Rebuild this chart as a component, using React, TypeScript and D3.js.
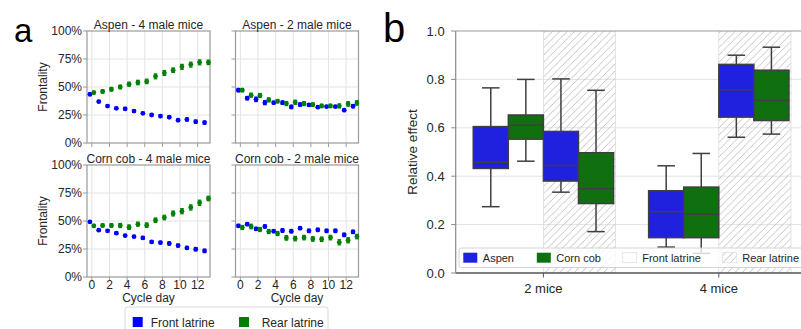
import React from "react";
import * as d3 from "d3";

// ---------- Panel a data ----------
const days = [0, 1, 2, 3, 4, 5, 6, 7, 8, 9, 10, 11, 12, 13];
const dayTicks = [0, 2, 4, 6, 8, 10, 12];
const pctTicks = [0, 25, 50, 75, 100];

const aspen4Front = [43.5, 37, 33, 31, 30.5, 28.5, 26.5, 25, 24, 23, 20.3, 21, 19, 18.2];
const aspen4Rear = [45, 46, 48, 50, 52.5, 54, 55, 59.5, 62.5, 65, 68, 70, 72, 72];
const aspen2Front = [47.2, 40, 39, 36, 36, 36, 32.2, 34.3, 34, 32, 32.5, 32.5, 29.3, 32.8];
const aspen2Rear = [47.2, 42.7, 42.4, 38.5, 37.3, 35.2, 36.4, 35.2, 34.3, 33.1, 33.1, 33.1, 34.9, 35.8];
const corn4Front = [49.3, 41.8, 41.2, 39.1, 37, 36.1, 34.9, 31.3, 30.7, 29.9, 28.1, 26, 24.8, 23.3];
const corn4Rear = [45.7, 46, 46, 46, 44.5, 47.2, 46.3, 50.7, 53.1, 56.7, 58.8, 62.1, 66.3, 70.1];
const corn2Front = [45.7, 47.2, 43, 45.1, 40.9, 41.5, 40.9, 43.6, 41.2, 42.1, 41.2, 41.2, 37.6, 40.3];
const corn2Rear = [44.2, 45.1, 42.4, 40.6, 38.8, 34.9, 34.3, 35.2, 34, 33.7, 35.2, 31, 32.8, 36.1];

const aspen4FrontErr = [1.2, 1, 1, 1, 1.3, 1, 1, 1, 1.3, 1, 1, 1.2, 1.4, 1.4];
const aspen4RearErr = [1.3, 1.5, 1.6, 1.6, 1.8, 2, 2, 2.2, 2.2, 2, 2.2, 2.2, 2.2, 2];
const aspen2FrontErr = [1.5, 1.5, 2, 1.8, 1.2, 1.5, 1.5, 1.5, 1.2, 1, 1, 1, 1.2, 1.3];
const aspen2RearErr = [1.5, 1.8, 1.8, 1.8, 1.5, 1.8, 1.8, 1.8, 1.5, 1.5, 1.5, 1.8, 2, 2];
const corn4FrontErr = [1, 1, 1, 1, 1, 1, 1.3, 1.2, 1.2, 1.3, 1.3, 1.3, 1.5, 1.5];
const corn4RearErr = [1.3, 1.3, 1.5, 1.8, 2, 1.8, 2, 2, 2, 2.2, 2.3, 2.3, 2.3, 2];
const corn2FrontErr = [1.3, 1.3, 1.3, 1.3, 1.3, 1.5, 1.5, 1.3, 1.5, 1.5, 1.5, 1.5, 1.5, 1.5];
const corn2RearErr = [1.8, 2, 1.8, 1.8, 1.8, 2, 2, 2, 2, 2, 2, 2.3, 2.3, 2];

const panelTitles = ["Aspen - 4 male mice", "Aspen - 2 male mice", "Corn cob - 4 male mice", "Corn cob - 2 male mice"];
const latrineLabels = ["Front latrine", "Rear latrine"];

// ---------- Panel b data ----------
const groups = ["2 mice", "4 mice"];
const beddings = ["Aspen", "Corn cob"];
const boxLatrine = ["Front", "Front", "Rear", "Rear"];
const boxBedding = ["Aspen", "Corn cob", "Aspen", "Corn cob"];
// [whiskerLow, q1, median, q3, whiskerHigh]
const boxes2mice = [
  [0.274, 0.432, 0.458, 0.605, 0.765],
  [0.462, 0.553, 0.611, 0.653, 0.8],
  [0.334, 0.38, 0.444, 0.585, 0.802],
  [0.171, 0.287, 0.348, 0.497, 0.755],
];
const boxes4mice = [
  [0.107, 0.146, 0.253, 0.34, 0.443],
  [0.081, 0.146, 0.243, 0.355, 0.494],
  [0.561, 0.644, 0.757, 0.862, 0.9],
  [0.574, 0.63, 0.713, 0.838, 0.933],
];
const effectTicks = [0, 0.2, 0.4, 0.6, 0.8, 1.0];

const FONT = "'Liberation Sans', Arial, sans-serif";
const BLUE = "#0000ff";
const GREEN = "#008000";
const BOX_BLUE = "#2020df";
const BOX_GREEN = "#107010";
const TXT = "#262626";

type PanelProps = {
  title: string;
  front: number[];
  rear: number[];
  frontErr: number[];
  rearErr: number[];
  left: number;
  top: number;
  showY: boolean;
  showX: boolean;
};

function SmallPanel(p: PanelProps) {
  const w = 123;
  const h = 112;
  const x = d3.scaleLinear().domain([-0.55, 13.4]).range([p.left, p.left + w]);
  const y = d3.scaleLinear().domain([0, 100]).range([p.top + h, p.top]);
  const dodge = 0.22;
  const series = [
    { vals: p.front, err: p.frontErr, color: BLUE, off: -dodge },
    { vals: p.rear, err: p.rearErr, color: GREEN, off: dodge },
  ];
  return (
    <g>
      {dayTicks.map((t) => (
        <line key={"gx" + t} x1={x(t)} x2={x(t)} y1={p.top} y2={p.top + h} stroke="#e3e3e3" strokeWidth={1} />
      ))}
      {pctTicks.slice(1, 4).map((t) => (
        <line key={"gy" + t} x1={p.left} x2={p.left + w} y1={y(t)} y2={y(t)} stroke="#e3e3e3" strokeWidth={1} />
      ))}
      <rect x={p.left} y={p.top} width={w} height={h} fill="none" stroke="#9a9a9a" strokeWidth={1.2} />
      {dayTicks.map((t) => (
        <line key={"tx" + t} x1={x(t)} x2={x(t)} y1={p.top + h} y2={p.top + h + 4} stroke="#9a9a9a" strokeWidth={1} />
      ))}
      {pctTicks.map((t) => (
        <line key={"ty" + t} x1={p.left - 4} x2={p.left} y1={y(t)} y2={y(t)} stroke="#9a9a9a" strokeWidth={1} />
      ))}
      {p.showY &&
        pctTicks.map((t) => (
          <text key={"ly" + t} x={p.left - 5} y={y(t) + 4.3} textAnchor="end" fontSize={12} fill={TXT} fontFamily={FONT}>
            {t + "%"}
          </text>
        ))}
      {p.showY && (
        <text
          transform={`translate(${p.left - 40},${p.top + h / 2}) rotate(-90)`}
          textAnchor="middle"
          fontSize={12}
          fill={TXT}
          fontFamily={FONT}
        >
          Frontality
        </text>
      )}
      {p.showX &&
        dayTicks.map((t) => (
          <text key={"lx" + t} x={x(t)} y={p.top + h + 12} textAnchor="middle" fontSize={12} fill={TXT} fontFamily={FONT}>
            {t}
          </text>
        ))}
      {p.showX && (
        <text x={p.left + w / 2} y={p.top + h + 25} textAnchor="middle" fontSize={12} fill={TXT} fontFamily={FONT}>
          Cycle day
        </text>
      )}
      <text x={p.left + w / 2} y={p.top - 2.5} textAnchor="middle" fontSize={12} fill={TXT} fontFamily={FONT}>
        {p.title}
      </text>
      {series.map((s, si) =>
        days.map((d, i) => {
          const cx = x(d + s.off);
          const v = s.vals[i];
          const e = s.err[i];
          return (
            <g key={si + "-" + i}>
              <line x1={cx} x2={cx} y1={y(v - e)} y2={y(v + e)} stroke={s.color} strokeWidth={1.5} />
              <line x1={cx - 1.8} x2={cx + 1.8} y1={y(v - e)} y2={y(v - e)} stroke={s.color} strokeWidth={1.2} />
              <line x1={cx - 1.8} x2={cx + 1.8} y1={y(v + e)} y2={y(v + e)} stroke={s.color} strokeWidth={1.2} />
              <circle cx={cx} cy={y(v)} r={2.4} fill={s.color} />
            </g>
          );
        })
      )}
    </g>
  );
}

function PanelB() {
  const left = 455.7;
  const step = 175.4;
  const top = 31;
  const bottom = 273;
  const xb = d3.scaleBand().domain(groups).range([left, left + step * groups.length]).paddingInner(0).paddingOuter(0);
  const center = (g: string) => (xb(g) as number) + xb.bandwidth() / 2;
  const y = d3.scaleLinear().domain([0, 1]).range([bottom, top]);
  const bw = (xb.bandwidth() * 0.8) / 4;
  const data = [boxes2mice, boxes4mice];
  const edge = "#3f3f3f";
  return (
    <g>
      <defs>
        <pattern id="hatch" patternUnits="userSpaceOnUse" width={7.3} height={7.3}>
          <path d="M-1.825,1.825 L1.825,-1.825 M0,7.3 L7.3,0 M5.475,9.125 L9.125,5.475" stroke="#bdbdbd" strokeWidth={0.9} />
        </pattern>
        <clipPath id="clipb">
          <rect x={left} y={top} width={801 - left} height={bottom - top} />
        </clipPath>
      </defs>
      {effectTicks.slice(1, 5).map((t) => (
        <line key={"g" + t} x1={left} x2={801} y1={y(t)} y2={y(t)} stroke="#e3e3e3" strokeWidth={1} />
      ))}
      <g clipPath="url(#clipb)">
        {groups.map((g) => (
          <rect key={"h" + g} x={center(g)} y={top} width={bw * 2 + 2} height={bottom - top} fill="url(#hatch)" stroke="#dcdcdc" strokeWidth={0.8} />
        ))}
      </g>
      {groups.map((g, gi) =>
        data[gi].map((b, i) => {
          const x0 = center(g) - 2 * bw + i * bw;
          const cx = x0 + bw / 2;
          const fill = boxBedding[i] === beddings[0] ? BOX_BLUE : BOX_GREEN;
          const capW = bw * 0.5;
          return (
            <g key={g + i}>
              <line x1={cx} x2={cx} y1={y(b[0])} y2={y(b[1])} stroke={edge} strokeWidth={1.5} />
              <line x1={cx} x2={cx} y1={y(b[3])} y2={y(b[4])} stroke={edge} strokeWidth={1.5} />
              <line x1={cx - capW / 2} x2={cx + capW / 2} y1={y(b[0])} y2={y(b[0])} stroke={edge} strokeWidth={1.5} />
              <line x1={cx - capW / 2} x2={cx + capW / 2} y1={y(b[4])} y2={y(b[4])} stroke={edge} strokeWidth={1.5} />
              <rect x={x0} y={y(b[3])} width={bw} height={y(b[1]) - y(b[3])} fill={fill} stroke={edge} strokeWidth={1.5} data-latrine={boxLatrine[i]} />
              <line x1={x0} x2={x0 + bw} y1={y(b[2])} y2={y(b[2])} stroke={edge} strokeWidth={1.5} />
            </g>
          );
        })
      )}
      {/* spines */}
      <line x1={left} x2={801} y1={top} y2={top} stroke="#9a9a9a" strokeWidth={1.2} />
      <line x1={left} x2={left} y1={top} y2={bottom} stroke="#8a8a8a" strokeWidth={1.2} />
      <line x1={left} x2={801} y1={bottom} y2={bottom} stroke="#555" strokeWidth={1.3} />
      {effectTicks.map((t) => (
        <g key={"t" + t}>
          <line x1={left - 4.5} x2={left} y1={y(t)} y2={y(t)} stroke="#8a8a8a" strokeWidth={1} />
          <text x={left - 11} y={y(t) + 4.6} textAnchor="end" fontSize={13} fill={TXT} fontFamily={FONT}>
            {t.toFixed(1)}
          </text>
        </g>
      ))}
      {groups.map((g) => (
        <g key={"x" + g}>
          <line x1={center(g)} x2={center(g)} y1={bottom} y2={bottom + 4.5} stroke="#555" strokeWidth={1} />
          <text x={center(g)} y={bottom + 19.5} textAnchor="middle" fontSize={13} fill={TXT} fontFamily={FONT}>
            {g}
          </text>
        </g>
      ))}
      <text transform={`translate(417,152) rotate(-90)`} textAnchor="middle" fontSize={13.5} fill={TXT} fontFamily={FONT}>
        Relative effect
      </text>
      {/* legend */}
      <rect x={459} y={248} width={345} height={19.5} rx={2.5} fill="#ffffff" fillOpacity={0.8} stroke="#cfcfcf" strokeWidth={0.9} />
      {[
        { label: beddings[0], fill: BOX_BLUE, x: 463.3 },
        { label: beddings[1], fill: BOX_GREEN, x: 536.8 },
        { label: latrineLabels[0], fill: "#ffffff", x: 622.7 },
        { label: latrineLabels[1], fill: "url(#hatch)", x: 722.7 },
      ].map((it, i) => (
        <g key={"lg" + i}>
          <rect x={it.x} y={252.7} width={14} height={10} fill={it.fill} stroke={i < 2 ? "none" : "#e0e0e0"} strokeWidth={0.8} />
          <text x={it.x + 19.5} y={262.2} fontSize={11} fill={TXT} fontFamily={FONT}>
            {it.label}
          </text>
        </g>
      ))}
    </g>
  );
}

export default function App() {
  const panels: PanelProps[] = [
    { title: panelTitles[0], front: aspen4Front, rear: aspen4Rear, frontErr: aspen4FrontErr, rearErr: aspen4RearErr, left: 87, top: 31, showY: true, showX: false },
    { title: panelTitles[1], front: aspen2Front, rear: aspen2Rear, frontErr: aspen2FrontErr, rearErr: aspen2RearErr, left: 235.5, top: 31, showY: false, showX: false },
    { title: panelTitles[2], front: corn4Front, rear: corn4Rear, frontErr: corn4FrontErr, rearErr: corn4RearErr, left: 87, top: 165, showY: true, showX: true },
    { title: panelTitles[3], front: corn2Front, rear: corn2Rear, frontErr: corn2FrontErr, rearErr: corn2RearErr, left: 235.5, top: 165, showY: false, showX: true },
  ];
  return (
    <svg
      width={801}
      height={329}
      viewBox="0 0 801 329"
      style={{ position: "absolute", left: 0, top: 0, background: "#ffffff" }}
      fontFamily={FONT}
    >
      <rect x={0} y={0} width={801} height={329} fill="#ffffff" />
      <text x={14} y={41.5} fontSize={33} fill="#000" fontFamily={FONT}>
        a
      </text>
      <text x={383} y={41.5} fontSize={40} fill="#000" fontFamily={FONT}>
        b
      </text>
      {panels.map((p, i) => (
        <SmallPanel key={i} {...p} />
      ))}
      {/* panel a legend */}
      <rect x={125} y={307} width={203} height={30} rx={2.5} fill="#ffffff" stroke="#d5d5d5" strokeWidth={0.9} />
      <rect x={132.7} y={317} width={10} height={10} fill={BLUE} />
      <text x={150.7} y={327} fontSize={12} fill={TXT} fontFamily={FONT}>
        {latrineLabels[0]}
      </text>
      <rect x={239} y={317} width={10} height={10} fill={GREEN} />
      <text x={261.7} y={327} fontSize={12} fill={TXT} fontFamily={FONT}>
        {latrineLabels[1]}
      </text>
      <PanelB />
    </svg>
  );
}
